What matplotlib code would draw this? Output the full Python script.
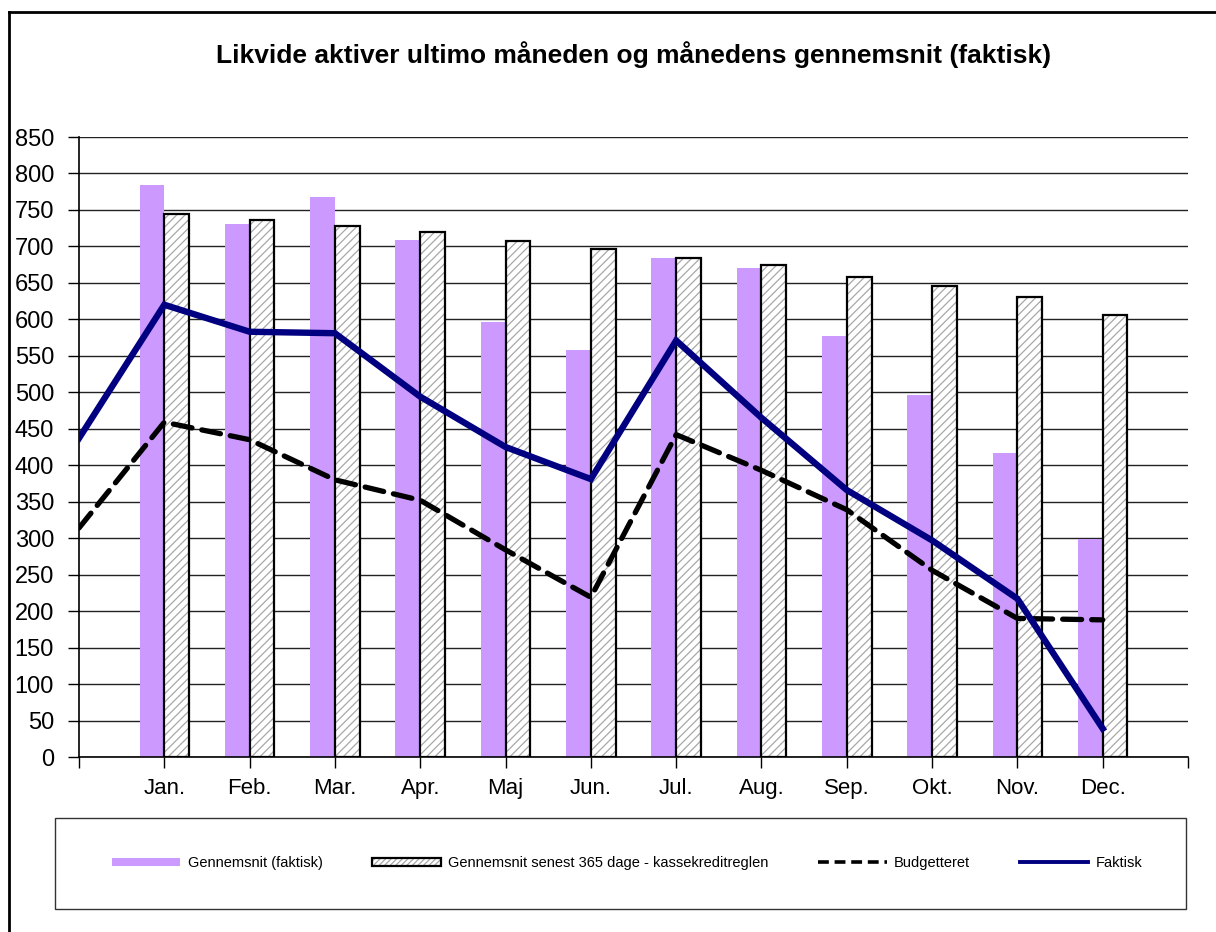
import matplotlib
matplotlib.use("Agg")
import matplotlib.pyplot as plt
from matplotlib.patches import Patch, Rectangle
from matplotlib.lines import Line2D
import numpy as np

plt.rcParams['font.family'] = ['Liberation Sans', 'DejaVu Sans']
plt.rcParams['hatch.linewidth'] = 0.9

title = "Likvide aktiver ultimo måneden og månedens gennemsnit (faktisk)"
months = ['Jan.', 'Feb.', 'Mar.', 'Apr.', 'Maj', 'Jun.', 'Jul.', 'Aug.', 'Sep.', 'Okt.', 'Nov.', 'Dec.']
gns_faktisk = [784, 731, 768, 709, 596, 558, 684, 670, 577, 496, 417, 299]
gns_365 = [744, 736, 728, 720, 707, 696, 684, 674, 658, 646, 631, 606]
# line series: first value is the starting point (before January)
budgetteret = [314, 459, 435, 380, 352, 284, 219, 442, 393, 339, 256, 190, 188]
faktisk = [437, 620, 583, 581, 494, 425, 381, 571, 465, 366, 297, 217, 39]
yticks = list(range(0, 851, 50))

labels = ['Gennemsnit (faktisk)', 'Gennemsnit senest 365 dage - kassekreditreglen',
          'Budgetteret', 'Faktisk']

purple = '#CC99FF'
navy = '#000080'

fig = plt.figure(figsize=(12.16, 9.32), dpi=100)
ax = fig.add_axes([79/1216, 175/932, 1109/1216, 620/932])

xm = np.arange(1, len(months) + 1)
w = 0.29
ax.bar(xm - w/2, gns_faktisk, width=w, color=purple, linewidth=0, zorder=2)
ax.bar(xm + w/2, gns_365, width=w, facecolor='white', edgecolor='#a8a8a8',
       hatch='////', linewidth=0, zorder=2)
ax.bar(xm + w/2, gns_365, width=w, fill=False, edgecolor='black',
       linewidth=1.6, zorder=3)

xl = np.arange(len(faktisk))
ax.plot(xl, budgetteret, color='black', lw=3.8, linestyle=(0, (3.6, 1.9)),
        dash_capstyle='round', zorder=4)
ax.plot(xl, faktisk, color=navy, lw=4.6, zorder=5, solid_joinstyle='miter')

ax.set_xlim(0, 13)
ax.set_ylim(0, 850)
ax.set_yticks(yticks)
ax.set_yticklabels([str(v) for v in yticks], fontsize=17)
ax.set_xticks(np.arange(0, 14))
ax.set_xticklabels([''] + months + [''], fontsize=16)
ax.tick_params(axis='both', direction='out', length=8, width=1, color='black')
ax.tick_params(axis='y', pad=10)
ax.tick_params(axis='x', pad=7)
ax.yaxis.grid(True, color='#222222', linewidth=1.0, zorder=0)
ax.set_axisbelow(True)
for s in ['top', 'right']:
    ax.spines[s].set_visible(False)
ax.spines['left'].set_linewidth(1.2)
ax.spines['bottom'].set_linewidth(1.2)

fig.text(634/1216, (932-55)/932, title, ha='center', va='center',
         fontsize=19, fontweight='bold')

# outer border (left and top)
fig.add_artist(Line2D([9/1216, 9/1216], [0, (932-12)/932], transform=fig.transFigure,
                      color='black', lw=2))
fig.add_artist(Line2D([9/1216, 1], [(932-12)/932, (932-12)/932], transform=fig.transFigure,
                      color='black', lw=2))

# legend box
fig.add_artist(Rectangle((55/1216, (932-909)/932), 1131/1216, 91/932,
                         transform=fig.transFigure, fill=False, edgecolor='#333333', lw=1))

h1 = Patch(facecolor=purple, linewidth=0)
h2a = Patch(facecolor='white', edgecolor='#a8a8a8', hatch='//////', linewidth=0)
h2b = Patch(fill=False, edgecolor='black', linewidth=1.6)
h3 = Line2D([], [], color='black', lw=2.6, linestyle=(0, (3.0, 1.6)))
h4 = Line2D([], [], color=navy, lw=2.8)
leg = fig.legend([h1, (h2a, h2b), h3, h4], labels, loc='center',
                 bbox_to_anchor=(627/1216, (932-863)/932), ncol=4, frameon=False,
                 fontsize=10.5, handlelength=4.7, handleheight=0.5,
                 handletextpad=0.5, columnspacing=3.4)

fig.savefig('out.png', dpi=100)
